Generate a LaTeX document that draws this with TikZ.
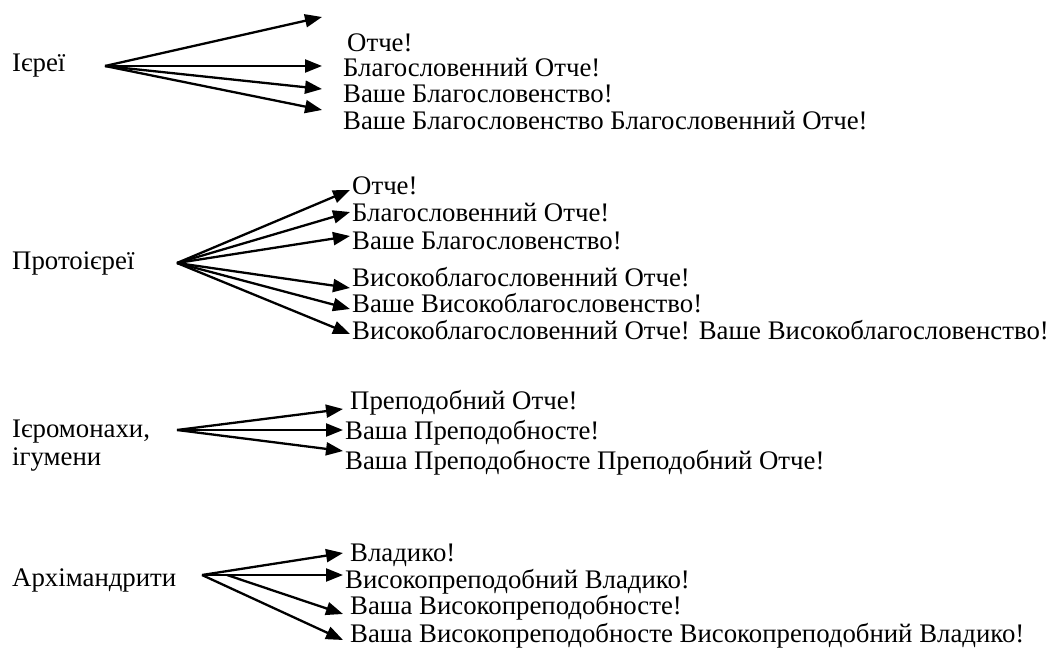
\documentclass[tikz,border=0pt]{standalone}
\usepackage{fontspec}
\setmainfont{Liberation Serif}
\newfontfamily\reffont{Liberation Serif}
\usetikzlibrary{arrows.meta}
\begin{document}
\begin{tikzpicture}[x=1pt,y=-1pt,
  lbl/.style={anchor=west,inner sep=0pt,font=\reffont\fontsize{26.8}{28}\selectfont},
  arr/.style={line width=2.3pt,-{Triangle[length=17pt,width=13pt]}}]
\useasboundingbox (0,0) rectangle (1048,660);
% group 1
\node[lbl] (g1) at (12,66) {Ієреї};
\coordinate (o1) at (105,66);
\coordinate (t11) at (322,17);
\coordinate (t12) at (322,66);
\coordinate (t13) at (322,89);
\coordinate (t14) at (322,110);
\node[lbl] (a11) at (347,43) {Отче!};
\node[lbl] (a12) at (343,68) {Благословенний Отче!};
\node[lbl] (a13) at (343,94) {Ваше Благословенство!};
\node[lbl] (a14) at (343,121) {Ваше Благословенство Благословенний Отче!};
\foreach \i in {1,...,4} \draw[arr] (o1) -- (t1\i);
% group 2
\node[lbl] (g2) at (12,263) {Протоієреї};
\coordinate (o2) at (177,263);
\coordinate (t21) at (350,190);
\coordinate (t22) at (350,212);
\coordinate (t23) at (350,236);
\coordinate (t24) at (350,288);
\coordinate (t25) at (350,309);
\coordinate (t26) at (350,334);
\node[lbl] (a21) at (352,186) {Отче!};
\node[lbl] (a22) at (352,213) {Благословенний Отче!};
\node[lbl] (a23) at (352,241) {Ваше Благословенство!};
\node[lbl] (a24) at (352,277) {Високоблагословенний Отче!};
\node[lbl] (a25) at (352,303) {Ваше Високоблагословенство!};
\node[lbl] (a26) at (352,330) {Високоблагословенний Отче! Ваше Високоблагословенство!};
\foreach \i in {1,...,6} \draw[arr] (o2) -- (t2\i);
% group 3
\node[lbl,align=left] (g3) at (12,446) {Ієромонахи,\\ ігумени};
\coordinate (o3) at (177,430);
\coordinate (t31) at (343,409);
\coordinate (t32) at (343,430);
\coordinate (t33) at (343,451);
\node[lbl] (a31) at (350,403) {Преподобний Отче!};
\node[lbl] (a32) at (345,433) {Ваша Преподобносте!};
\node[lbl] (a33) at (345,463) {Ваша Преподобносте Преподобний Отче!};
\foreach \i in {1,...,3} \draw[arr] (o3) -- (t3\i);
% group 4
\node[lbl] (g4) at (12,580) {Архімандрити};
\coordinate (o4) at (202,575);
\coordinate (m4) at (227,575);
\coordinate (t41) at (343,553);
\coordinate (t42) at (343,575);
\coordinate (t43) at (343,614);
\coordinate (t44) at (343,640);
\node[lbl] (a41) at (350,555) {Владико!};
\node[lbl] (a42) at (345,582) {Високопреподобний Владико!};
\node[lbl] (a43) at (350,608) {Ваша Високопреподобносте!};
\node[lbl] (a44) at (350,636) {Ваша Високопреподобносте Високопреподобний Владико!};
\draw[arr] (o4) -- (t41);
\draw[arr] (o4) -- (t42);
\draw[arr] (m4) -- (t43);
\draw[arr] (o4) -- (t44);
\end{tikzpicture}
\end{document}
